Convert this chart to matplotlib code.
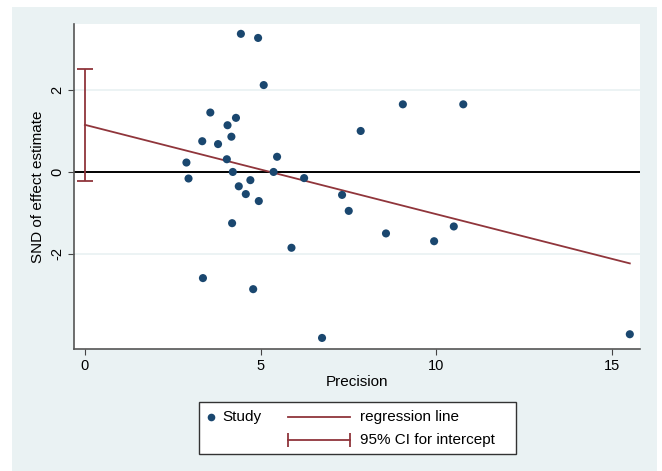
import numpy as np
import matplotlib.pyplot as plt
from matplotlib.lines import Line2D
from matplotlib.patches import Rectangle

# Precision (1/SE) and standard normal deviate for each study
precision = [4.44, 4.93, 5.09, 9.05, 10.77, 7.85, 3.57, 4.30, 4.06, 4.17,
             3.34, 3.79, 5.47, 2.89, 4.04, 4.21, 5.37, 2.95, 4.71, 6.24,
             4.38, 4.58, 4.95, 7.32, 7.51, 4.19, 8.57, 9.94, 10.50, 5.88,
             3.36, 4.79, 6.75, 15.51]
snd = [3.37, 3.27, 2.12, 1.65, 1.65, 1.00, 1.45, 1.32, 1.14, 0.86,
       0.75, 0.68, 0.37, 0.23, 0.31, 0.00, 0.00, -0.16, -0.20, -0.15,
       -0.35, -0.54, -0.71, -0.56, -0.95, -1.25, -1.50, -1.69, -1.33, -1.85,
       -2.59, -2.86, -4.05, -3.96]

# Egger regression line and CI for the intercept
intercept = 1.15
slope = -0.218
ci_intercept = [-0.22, 2.51]

xticks = [0, 5, 10, 15]
yticks = [-2, 0, 2]

navy = '#1a476f'
maroon = '#90353b'
bg = '#eaf2f3'

plt.rcParams['font.family'] = ['Liberation Sans', 'DejaVu Sans']

fig = plt.figure(figsize=(6.62, 4.71), dpi=100)
fig.patch.set_facecolor('white')
# Stata-like light bluish gray graph region
fig.add_artist(Rectangle((12 / 662, 0), 645 / 662, 464 / 471,
                         transform=fig.transFigure, facecolor=bg,
                         edgecolor='none', zorder=0))

ax = fig.add_axes([74 / 662, 1 - 349 / 471, 566 / 662, 325 / 471])
ax.set_facecolor('white')

ax.set_xlim(-0.31, 15.80)
ax.set_ylim(-4.32, 3.61)

# grid lines
for yv in yticks:
    ax.axhline(yv, color=bg, lw=1.3, zorder=1)
ax.axhline(0, color='black', lw=1.4, zorder=2)

# regression line
x_line = np.array([0, max(precision)])
ax.plot(x_line, intercept + slope * x_line, color=maroon, lw=1.3, zorder=3)

# CI for intercept
ax.errorbar([0], [(ci_intercept[0] + ci_intercept[1]) / 2],
            yerr=[[(ci_intercept[1] - ci_intercept[0]) / 2]],
            fmt='none', ecolor=maroon, elinewidth=1.3, capsize=6,
            capthick=1.3, zorder=3)

ax.scatter(precision, snd, s=34, color=navy, edgecolors='none', zorder=4)

ax.set_xticks(xticks)
ax.set_yticks(yticks)
ax.set_yticklabels([str(v) for v in yticks], rotation=90, va='center')
ax.tick_params(axis='both', direction='out', length=4, width=0.8,
               color='#444444', labelsize=10.5, pad=3)

for side in ['top', 'right']:
    ax.spines[side].set_visible(False)
for side in ['left', 'bottom']:
    ax.spines[side].set_color('#555555')
    ax.spines[side].set_linewidth(1.2)

ax.set_xlabel('Precision', fontsize=11, labelpad=2)
ax.set_ylabel('SND of effect estimate', fontsize=11, labelpad=4)

# legend box drawn in figure coordinates
W, H = 662, 471
def fx(p):
    return p / W
def fy(p):
    return 1 - p / H

fig.add_artist(Rectangle((fx(199), fy(454)), fx(317), 52 / H,
                         transform=fig.transFigure, facecolor='white',
                         edgecolor='#333333', lw=1.0, zorder=5))
fig.add_artist(Line2D([fx(210.5)], [fy(416.5)], marker='o', markersize=5.5,
                      color=navy, markeredgewidth=0, linestyle='none',
                      transform=fig.transFigure, zorder=6))
fig.text(fx(222), fy(416.5), 'Study', fontsize=11, va='center', zorder=6)
fig.add_artist(Line2D([fx(288), fx(350)], [fy(416.5), fy(416.5)],
                      color=maroon, lw=1.3, transform=fig.transFigure, zorder=6))
fig.text(fx(360), fy(416.5), 'regression line', fontsize=11, va='center', zorder=6)
fig.add_artist(Line2D([fx(288), fx(350)], [fy(440), fy(440)],
                      color=maroon, lw=1.3, marker='|', markersize=10,
                      markeredgewidth=1.3, transform=fig.transFigure, zorder=6))
fig.text(fx(360), fy(440), '95% CI for intercept', fontsize=11, va='center', zorder=6)

plt.savefig('out.png', dpi=100)
